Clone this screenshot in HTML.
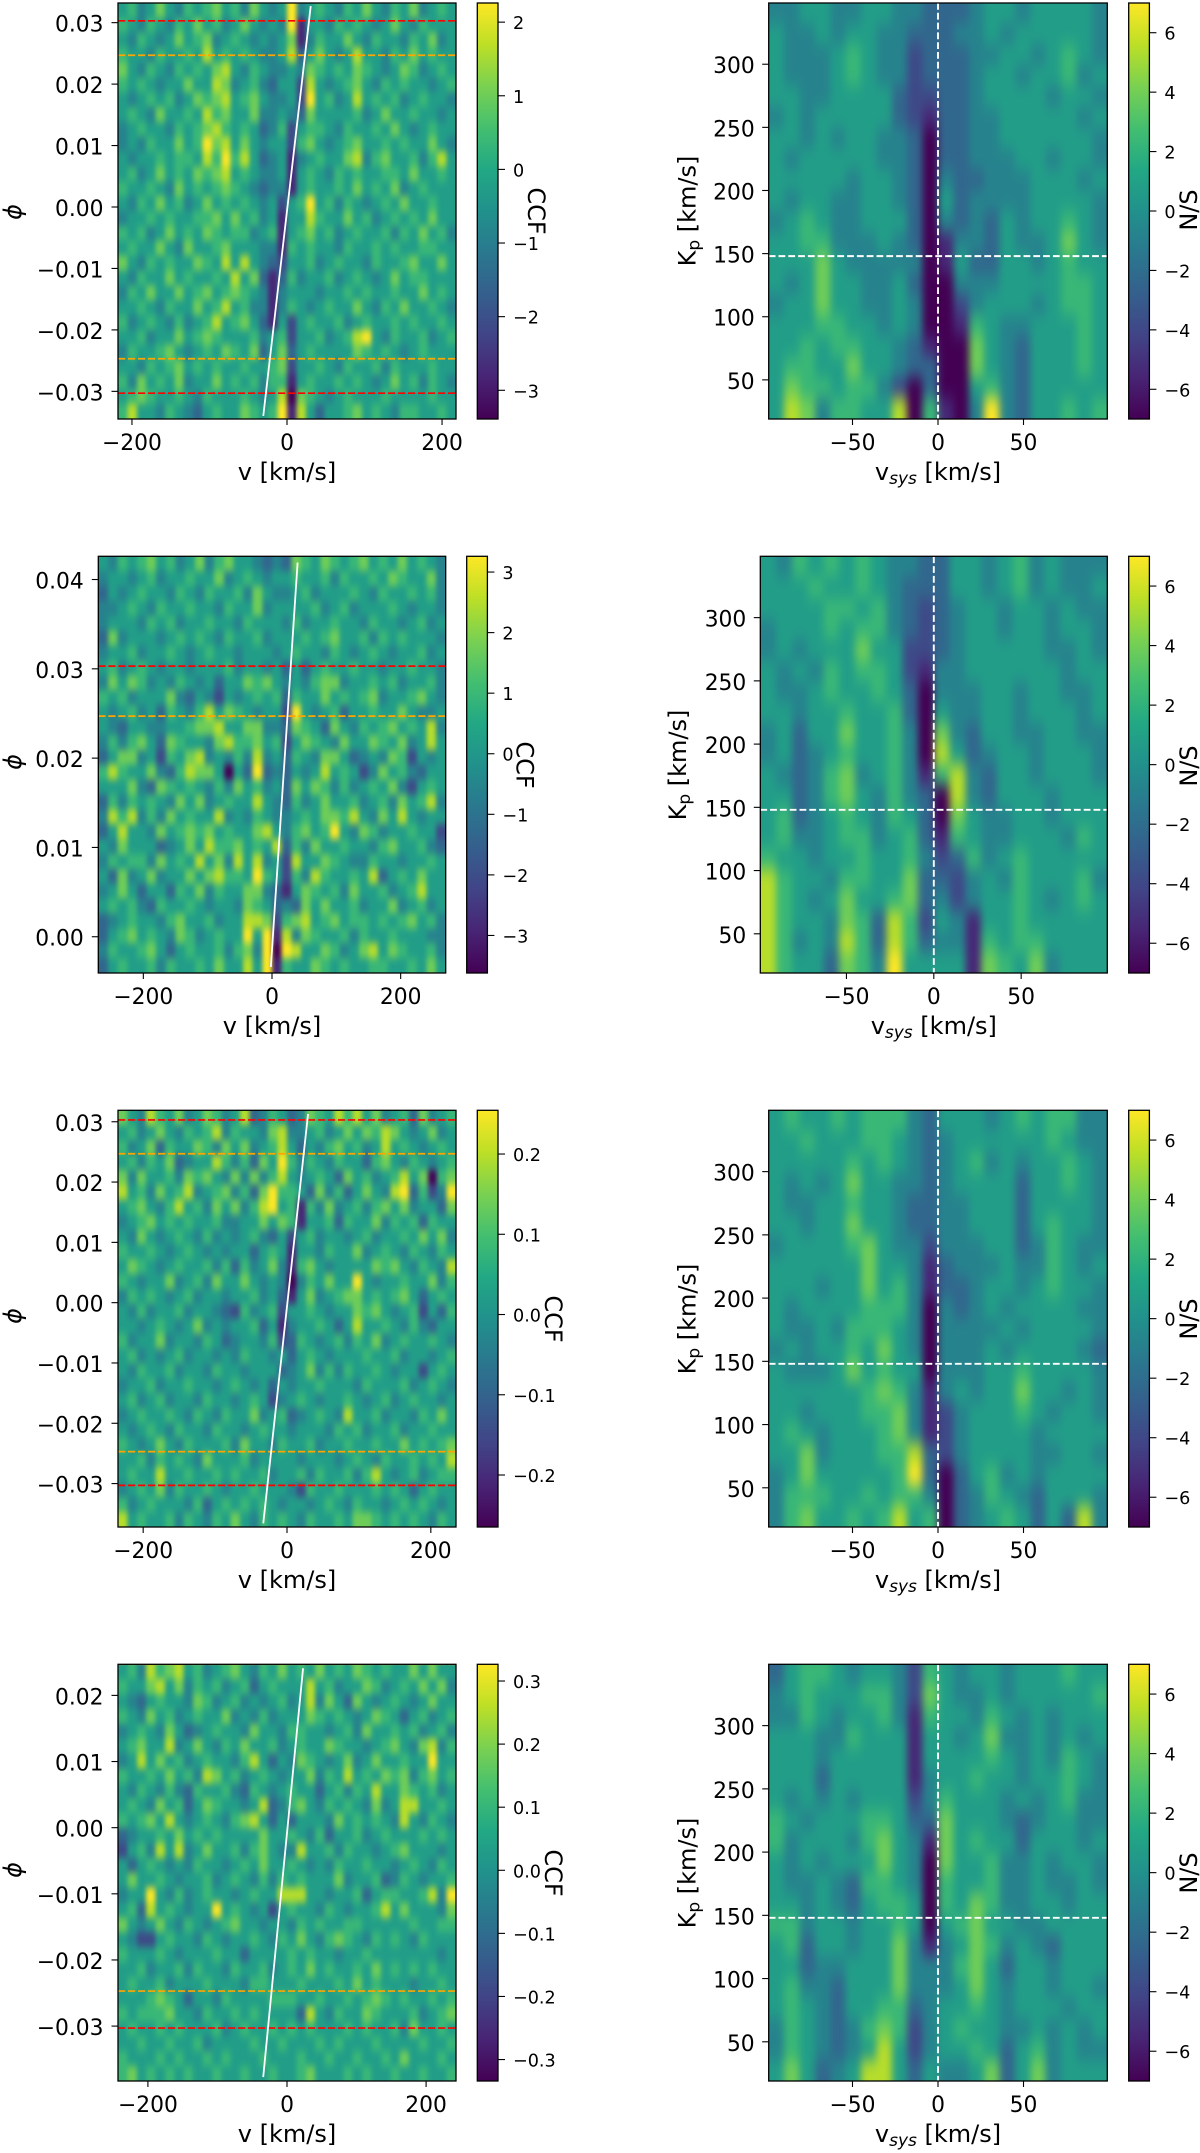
<!DOCTYPE html>
<html lang="en">
<head>
<meta charset="utf-8">
<title>CCF and N/S maps</title>
<style>
html,body{margin:0;padding:0;background:#fff}
svg{display:block}
text{font-family:"DejaVu Sans","Liberation Sans",sans-serif;fill:#000}
.axlab{font-size:24px}
.sub{font-size:17px}
.subi{font-size:17px;font-style:italic}
</style>
</head>
<body>
<svg id="fig" xmlns="http://www.w3.org/2000/svg" width="1200" height="2153" viewBox="0 0 1200 2153">
<defs>
<linearGradient id="viridis-grad" x1="0" y1="1" x2="0" y2="0"></linearGradient>
<filter id="blur-ccf" x="-5%" y="-5%" width="110%" height="110%" color-interpolation-filters="sRGB"><feGaussianBlur stdDeviation="2.2 4"/></filter>
<filter id="blur-snr" x="-5%" y="-5%" width="110%" height="110%" color-interpolation-filters="sRGB"><feGaussianBlur stdDeviation="3.6 8"/></filter>
</defs>
<g id="layer-marks"></g>
<g>
<text class="axlab" text-anchor="middle" transform="translate(287,480)">v [km/s]</text>
<text class="axlab" text-anchor="middle" transform="translate(272,1034)">v [km/s]</text>
<text class="axlab" text-anchor="middle" transform="translate(287,1588)">v [km/s]</text>
<text class="axlab" text-anchor="middle" transform="translate(287,2142)">v [km/s]</text>
<text class="axlab" font-style="italic" text-anchor="middle" transform="translate(21,212) rotate(-90)">ϕ</text>
<text class="axlab" font-style="italic" text-anchor="middle" transform="translate(21,762) rotate(-90)">ϕ</text>
<text class="axlab" font-style="italic" text-anchor="middle" transform="translate(21,1316) rotate(-90)">ϕ</text>
<text class="axlab" font-style="italic" text-anchor="middle" transform="translate(21,1870) rotate(-90)">ϕ</text>
<text class="axlab" text-anchor="middle" transform="translate(528,211) rotate(90)">CCF</text>
<text class="axlab" text-anchor="middle" transform="translate(516.5,765) rotate(90)">CCF</text>
<text class="axlab" text-anchor="middle" transform="translate(545,1319) rotate(90)">CCF</text>
<text class="axlab" text-anchor="middle" transform="translate(545,1873) rotate(90)">CCF</text>
<text class="axlab" text-anchor="middle" transform="translate(938,480)">v<tspan class="subi" dy="4">sys</tspan><tspan dy="-4"> [km/s]</tspan></text>
<text class="axlab" text-anchor="middle" transform="translate(933.8,1034)">v<tspan class="subi" dy="4">sys</tspan><tspan dy="-4"> [km/s]</tspan></text>
<text class="axlab" text-anchor="middle" transform="translate(938,1588)">v<tspan class="subi" dy="4">sys</tspan><tspan dy="-4"> [km/s]</tspan></text>
<text class="axlab" text-anchor="middle" transform="translate(938,2142)">v<tspan class="subi" dy="4">sys</tspan><tspan dy="-4"> [km/s]</tspan></text>
<text class="axlab" text-anchor="middle" transform="translate(695.6,211) rotate(-90)">K<tspan class="sub" dy="4">p</tspan><tspan dy="-4"> [km/s]</tspan></text>
<text class="axlab" text-anchor="middle" transform="translate(686,765) rotate(-90)">K<tspan class="sub" dy="4">p</tspan><tspan dy="-4"> [km/s]</tspan></text>
<text class="axlab" text-anchor="middle" transform="translate(695.6,1319) rotate(-90)">K<tspan class="sub" dy="4">p</tspan><tspan dy="-4"> [km/s]</tspan></text>
<text class="axlab" text-anchor="middle" transform="translate(695.6,1873) rotate(-90)">K<tspan class="sub" dy="4">p</tspan><tspan dy="-4"> [km/s]</tspan></text>
<text class="axlab" text-anchor="middle" transform="translate(1197,210) rotate(-90)">N/S</text>
<text class="axlab" text-anchor="middle" transform="translate(1197,766) rotate(-90)">N/S</text>
<text class="axlab" text-anchor="middle" transform="translate(1197,1319) rotate(-90)">N/S</text>
<text class="axlab" text-anchor="middle" transform="translate(1197,1873) rotate(-90)">N/S</text>
</g>
</svg>
<script>
// Heatmap values: colour-scale levels 0 (colorbar minimum) to 9 (colorbar maximum). Row 0 is the top of the map.
const ccfLevels1 = [
[5,6,4,5,7,5,4,6,5,6,7,5,6,4,7,5,4,5,9,4,5,6,5,4,6,5,7,5,4,6,5,7,4,5,6,5],
[6,5,4,6,5,4,6,5,7,5,6,4,5,7,5,4,5,4,9,1,5,5,4,6,5,6,5,4,5,7,5,4,6,5,5,5],
[5,4,6,5,4,5,7,5,6,7,4,5,6,5,4,5,4,5,7,1,4,6,5,5,7,5,4,6,5,5,4,6,5,7,4,5],
[6,5,5,4,6,5,5,6,5,8,5,6,5,6,5,4,4,5,8,3,5,7,5,4,5,8,5,5,4,6,5,7,5,6,5,5],
[7,5,4,6,5,4,6,5,6,5,7,8,5,4,6,5,4,4,5,4,7,6,5,6,5,7,6,5,4,5,7,6,4,5,6,5],
[6,5,6,5,4,5,5,7,5,5,8,7,4,5,6,4,3,5,5,2,8,5,4,5,6,7,5,4,6,5,6,5,5,4,5,6],
[5,4,5,6,5,6,4,5,7,6,7,8,5,6,7,5,4,4,5,2,9,5,6,4,5,8,5,6,5,6,4,5,6,5,5,4],
[5,6,5,4,7,5,5,6,5,8,6,7,5,5,7,4,4,5,4,3,7,5,5,5,5,6,4,5,7,5,5,6,5,5,4,5],
[4,5,6,5,5,4,6,5,6,7,8,6,5,6,5,3,4,6,2,5,6,6,5,4,6,5,5,6,5,7,5,4,5,6,5,5],
[4,5,4,6,5,5,7,5,6,9,7,8,5,7,5,4,5,5,2,6,7,5,4,5,6,7,5,5,6,5,6,5,5,7,5,4],
[5,4,5,5,6,5,6,6,5,8,6,9,6,8,5,3,4,5,1,4,5,6,5,5,7,8,4,6,7,5,5,6,4,6,8,5],
[5,6,4,5,7,5,6,5,7,6,7,8,5,6,5,4,4,5,1,5,6,5,4,6,5,6,5,5,6,6,5,7,5,5,6,5],
[6,5,5,6,5,4,7,5,6,5,6,7,6,5,4,3,4,4,1,5,6,5,5,6,5,7,5,6,5,7,4,5,6,5,5,5],
[5,4,6,5,7,5,6,4,5,7,5,6,5,6,5,4,5,2,5,6,9,5,6,4,6,5,4,5,6,5,7,5,5,6,5,5],
[4,5,5,6,5,6,5,5,6,6,7,5,7,5,6,4,5,1,5,5,8,6,5,5,7,5,6,4,5,6,5,6,5,7,5,5],
[6,5,6,4,5,7,5,6,5,7,6,5,6,6,4,5,6,1,5,6,7,5,6,4,5,6,5,5,6,4,6,5,7,5,6,4],
[5,6,5,5,7,5,4,7,5,5,6,7,5,5,5,4,4,1,6,5,6,5,5,4,6,5,5,6,5,6,5,5,6,6,5,5],
[7,5,4,6,5,6,5,5,7,6,5,8,5,8,5,4,3,2,5,5,6,4,5,6,5,5,4,6,5,5,6,7,5,5,7,5],
[5,4,6,5,5,7,5,6,5,5,6,5,8,5,7,3,1,3,6,4,5,5,6,4,5,6,5,4,5,7,5,6,6,5,5,5],
[4,6,5,7,5,5,7,5,6,7,5,6,7,6,5,4,1,4,5,5,5,4,5,5,6,5,6,5,5,6,5,5,7,5,6,5],
[5,5,6,5,4,6,5,5,7,5,6,8,5,6,4,4,1,4,6,5,4,5,6,5,5,7,5,4,6,5,7,5,5,6,5,4],
[6,4,5,6,5,4,6,4,5,6,8,5,6,7,5,3,1,5,2,5,6,5,5,6,4,5,6,5,5,6,5,6,5,5,6,5],
[5,5,6,4,5,5,7,5,6,7,6,5,5,5,6,4,5,6,2,5,5,6,4,5,6,8,9,5,4,6,5,5,6,4,5,6],
[4,6,5,5,6,7,5,4,5,6,5,7,6,5,7,3,5,7,3,5,6,5,5,5,5,7,6,5,6,5,4,5,6,5,5,5],
[5,5,4,6,5,6,7,5,6,5,6,5,5,6,5,5,6,7,2,5,5,6,5,4,6,5,5,6,4,6,5,5,5,6,5,5],
[6,4,7,5,6,5,7,4,5,5,7,5,6,5,6,4,6,6,1,5,6,5,5,6,5,6,5,4,5,7,5,6,4,6,5,4],
[5,6,7,6,5,5,6,5,4,6,5,5,5,6,5,4,5,8,0,7,6,5,4,5,6,5,5,5,6,5,5,5,5,6,5,5],
[6,8,5,5,4,6,5,4,3,5,6,5,5,7,6,5,6,9,1,8,5,3,5,5,6,7,5,6,5,4,6,6,5,5,6,5]
];
const ccfLevels2 = [
[5,4,6,5,6,7,5,6,4,5,7,4,6,7,5,5,4,3,4,3,7,6,5,7,6,5,6,7,5,6,5,7,5,6,5,4],
[4,5,5,4,5,6,4,5,5,6,5,5,7,4,5,6,5,4,5,5,6,5,5,6,4,6,5,5,6,5,7,6,5,5,7,4],
[3,5,4,5,6,5,5,4,6,5,4,6,5,5,6,4,7,5,4,4,5,6,4,5,5,5,6,5,4,6,5,5,6,5,6,4],
[4,4,5,6,5,4,6,5,5,6,5,5,4,6,5,5,7,4,5,5,5,5,6,4,5,6,4,5,5,5,6,5,4,5,5,4],
[4,5,5,5,4,6,5,6,4,5,5,6,5,5,4,6,5,5,5,4,6,4,5,5,6,5,5,4,6,5,5,4,5,6,4,5],
[3,7,4,5,5,5,4,5,6,5,6,5,4,6,5,5,6,4,5,5,5,6,5,6,7,5,5,6,4,6,5,6,5,5,5,4],
[4,5,5,6,4,5,5,6,5,4,5,6,5,5,4,5,5,5,4,5,6,5,5,4,6,5,4,5,6,5,4,5,5,6,4,5],
[5,6,4,5,6,5,4,5,5,4,5,5,5,6,4,5,5,4,5,3,5,3,5,6,5,5,6,5,5,4,5,5,6,5,5,4],
[4,7,5,7,6,4,5,4,6,5,4,5,3,5,5,7,6,7,5,4,5,4,6,7,7,4,5,5,6,5,6,4,5,5,6,4],
[6,5,6,4,5,5,5,7,4,3,5,4,2,5,4,5,6,5,6,3,6,5,5,7,5,6,5,6,7,4,5,5,6,7,5,4],
[5,4,5,6,4,5,3,6,5,4,6,8,5,7,6,5,4,5,5,2,9,5,4,5,6,3,5,5,6,5,5,7,5,4,4,5],
[5,4,3,5,5,4,4,5,5,6,7,7,8,5,5,7,7,4,4,3,7,6,5,3,7,5,4,6,5,6,7,5,6,5,8,4],
[4,6,4,6,7,5,3,7,6,5,5,4,7,8,6,6,7,5,6,2,5,7,6,5,4,7,5,5,7,6,5,7,4,5,8,5],
[3,5,7,7,4,5,2,6,5,7,8,4,5,4,6,4,8,4,5,3,6,5,4,7,7,5,3,4,5,4,7,6,2,5,4,5],
[6,8,6,5,5,7,4,3,6,8,7,7,5,0,5,3,9,3,4,3,5,4,5,8,5,6,5,2,4,7,5,6,4,3,5,5],
[5,5,5,7,4,3,7,6,5,6,5,4,6,4,7,5,6,4,5,3,7,5,7,6,4,6,4,5,6,5,7,4,2,5,6,5],
[3,6,4,6,5,6,5,4,7,5,7,4,5,6,5,5,8,5,4,3,6,4,5,7,5,5,6,4,5,6,4,7,5,6,8,4],
[4,8,6,8,4,6,4,7,5,6,5,5,8,4,5,4,6,5,4,4,5,6,5,7,7,6,8,5,4,7,5,8,5,4,5,5],
[3,5,8,5,5,4,7,5,6,7,6,7,5,6,5,5,7,8,5,4,6,7,5,6,9,5,4,7,6,4,5,5,6,5,5,2],
[5,4,7,5,5,5,3,4,5,7,5,8,6,6,7,5,6,5,8,3,6,4,7,5,5,6,5,5,4,6,7,5,5,6,4,3],
[4,6,5,6,6,4,7,5,6,5,8,5,7,4,8,5,8,4,5,2,8,5,5,7,6,5,4,4,6,5,5,4,5,5,6,5],
[5,3,7,4,5,7,4,5,5,7,5,7,8,6,6,5,9,6,5,2,6,4,8,6,5,5,6,5,8,3,5,6,5,7,5,5],
[4,5,7,5,3,5,5,3,6,5,7,4,6,5,5,7,7,4,3,1,5,7,6,5,6,4,7,5,5,6,4,5,6,8,5,5],
[5,6,5,6,4,3,6,5,5,6,5,4,5,5,4,7,6,5,3,4,3,7,5,7,5,5,6,4,5,5,7,4,5,6,4,5],
[3,4,5,6,5,5,4,6,7,5,5,6,4,5,5,8,8,7,2,6,7,8,5,6,7,5,6,6,5,6,5,6,7,5,6,4],
[3,5,6,7,5,6,5,4,7,6,4,5,6,5,5,9,5,9,1,8,4,7,6,5,5,6,4,6,5,5,6,5,5,5,4,4],
[4,6,5,5,6,7,5,3,5,6,5,5,6,4,6,7,4,9,0,9,8,5,5,7,6,4,5,7,8,5,7,6,5,5,6,4],
[3,5,6,5,5,6,4,6,5,5,6,5,7,5,5,8,5,9,1,6,5,5,7,6,5,6,5,5,6,6,5,5,6,5,7,5]
];
const ccfLevels3 = [
[7,5,4,8,6,5,7,4,5,7,6,4,5,8,3,4,6,5,3,4,7,6,5,8,6,8,5,7,4,5,6,3,7,4,5,6],
[5,6,4,5,7,5,4,6,5,6,8,4,6,5,5,4,7,8,4,4,5,6,4,5,7,5,7,6,8,7,5,4,5,7,4,5],
[6,4,5,7,3,6,5,5,7,6,4,7,5,7,4,5,6,8,5,3,5,4,6,7,5,6,4,5,8,5,6,5,4,5,6,5],
[5,6,4,6,5,7,3,4,5,5,8,6,4,6,3,7,5,9,6,4,6,5,4,6,5,5,3,6,7,5,4,6,5,4,5,6],
[7,4,7,5,5,6,4,7,6,7,5,4,7,4,7,4,6,8,5,4,5,6,5,3,7,5,6,4,5,6,8,5,7,0,6,7],
[8,5,6,4,7,5,6,8,4,5,6,7,4,6,3,7,9,6,6,5,3,7,4,6,3,5,7,5,4,8,9,3,6,2,4,9],
[5,6,7,5,4,6,8,5,6,4,7,5,7,4,6,8,9,5,6,1,6,4,7,4,5,6,4,6,7,5,7,4,5,5,3,7],
[4,5,6,7,5,6,5,6,5,5,6,4,4,5,5,7,5,7,6,1,5,5,6,3,6,5,5,7,4,6,5,6,3,6,5,5],
[5,4,7,5,4,5,6,5,4,6,4,5,4,5,6,4,3,5,2,5,6,4,5,5,4,5,6,4,5,5,6,5,7,5,7,4],
[6,5,5,6,5,4,5,6,5,4,5,4,5,5,3,5,6,5,1,5,5,4,6,5,5,7,4,5,6,5,4,6,5,4,6,5],
[5,7,6,5,4,5,6,5,5,6,4,6,3,6,4,5,7,4,1,6,7,5,4,5,5,5,5,7,6,7,5,4,6,5,4,8],
[6,5,4,5,5,7,4,5,6,4,7,5,5,7,5,4,5,4,0,4,6,5,7,5,5,9,5,4,5,5,6,5,5,7,4,6],
[4,6,5,6,5,4,5,6,4,5,5,4,5,5,6,4,5,3,1,5,7,4,5,6,7,7,5,6,5,6,7,5,3,5,6,5],
[5,4,6,4,5,5,6,4,5,5,4,3,2,6,4,5,6,2,5,5,6,5,4,5,5,7,6,7,5,4,5,6,2,5,3,6],
[5,5,4,5,6,5,4,5,7,4,5,4,5,5,6,3,5,1,4,5,5,6,5,3,5,8,5,5,6,5,4,6,4,3,5,5],
[6,4,5,5,7,4,5,5,4,6,5,3,4,5,5,4,6,2,3,6,5,4,5,6,4,6,5,7,4,5,6,5,5,6,5,4],
[5,6,4,5,4,5,6,4,5,5,4,5,4,6,5,5,4,5,3,5,6,5,4,5,5,5,6,5,5,6,4,5,5,4,5,6],
[5,4,6,5,5,6,4,5,5,4,6,5,5,4,5,5,5,3,4,5,7,4,6,4,6,5,5,6,5,4,5,5,2,5,6,5],
[4,5,5,6,4,5,5,6,5,5,4,5,6,5,4,5,3,5,4,5,5,6,5,5,5,4,6,5,5,5,6,4,5,6,5,4],
[5,6,4,5,6,4,5,5,4,6,5,5,4,5,6,5,2,4,5,6,5,4,5,5,6,5,4,5,6,4,5,6,5,5,4,5],
[4,5,6,5,5,6,5,4,6,5,4,6,5,5,7,4,5,6,3,4,5,6,5,4,8,5,5,6,4,5,5,4,6,5,7,5],
[5,4,5,6,5,4,6,5,5,4,6,5,5,4,5,6,5,5,4,5,5,5,4,6,5,6,4,5,5,6,4,5,5,6,5,5],
[6,5,4,5,7,5,4,6,5,5,5,6,4,7,5,5,4,6,5,5,6,4,5,5,6,5,5,6,5,5,7,5,6,5,6,7],
[5,5,6,4,6,5,6,5,4,7,5,5,5,6,4,5,5,5,5,4,5,5,5,4,5,6,5,4,6,5,5,6,5,6,5,8],
[5,6,5,5,8,5,5,6,5,5,6,5,6,5,5,6,4,5,5,6,4,6,5,5,6,4,6,8,5,4,5,6,4,5,6,6],
[4,5,6,5,7,4,6,5,5,6,5,4,5,5,6,5,5,5,4,2,6,5,5,6,5,5,5,6,5,6,5,3,5,6,5,5],
[6,4,5,6,5,5,5,4,6,3,5,6,5,6,5,6,5,4,5,5,4,5,6,5,4,6,5,5,4,5,6,5,6,5,4,5],
[8,5,6,5,5,6,4,6,5,4,6,5,7,5,4,6,5,6,5,4,6,5,5,6,5,7,7,6,5,6,5,6,5,4,6,5]
];
const ccfLevels4 = [
[5,6,4,8,6,7,8,5,6,4,5,6,7,5,4,6,5,7,5,6,5,7,5,6,5,7,6,5,6,5,5,7,5,7,5,5],
[6,5,5,7,8,5,7,4,6,5,6,4,5,6,3,5,6,5,5,5,8,5,6,4,5,5,7,6,4,5,6,5,7,5,7,4],
[5,4,3,5,6,5,5,4,7,6,4,5,6,4,5,4,5,6,4,5,8,4,7,5,3,7,5,4,5,6,5,4,5,7,5,5],
[6,5,4,7,5,6,4,5,6,5,5,7,4,5,4,6,4,5,5,5,7,6,5,6,5,4,5,7,6,5,3,5,6,4,5,6],
[4,5,6,5,4,7,5,3,4,5,6,5,5,4,7,5,5,4,6,6,5,5,4,5,6,4,7,5,5,6,5,6,4,5,6,4],
[5,6,7,5,5,8,4,5,7,5,4,6,5,7,5,5,6,4,5,6,5,5,7,6,5,5,4,5,6,7,5,4,7,8,4,6],
[4,5,8,5,7,5,6,4,5,6,5,5,4,6,8,5,3,5,4,7,6,5,4,5,7,4,5,7,5,5,6,5,5,9,5,5],
[6,5,5,6,5,7,5,6,4,8,7,5,6,4,5,6,5,4,5,5,7,4,6,5,8,5,6,5,7,6,7,4,6,7,5,6],
[5,4,6,5,4,6,4,3,6,5,5,6,4,3,6,5,4,5,6,5,5,3,5,6,4,6,5,8,5,5,7,6,5,6,4,5],
[5,6,5,4,7,5,6,3,5,7,6,5,5,4,5,8,3,4,6,7,5,4,6,5,6,5,4,7,4,5,8,8,5,5,6,5],
[6,5,6,7,5,8,5,4,5,6,5,4,6,7,8,5,3,5,3,5,5,5,4,7,5,6,5,6,5,4,8,5,4,6,5,4],
[3,4,5,5,6,5,7,5,6,5,6,5,5,5,5,7,5,5,6,5,4,6,3,5,5,6,4,5,6,5,5,5,6,5,6,5],
[2,5,6,4,8,5,8,4,5,7,5,5,6,4,6,7,5,4,4,8,5,5,6,4,6,5,5,4,5,6,7,5,5,5,4,5],
[5,3,5,6,5,4,5,4,6,5,5,4,5,6,5,7,5,5,6,5,4,5,4,6,5,5,6,5,5,4,5,6,5,4,6,5],
[5,7,5,5,6,5,4,5,5,6,4,5,6,5,4,6,4,6,5,6,5,5,5,7,4,5,5,6,3,4,6,5,4,5,5,6],
[4,5,5,9,5,4,6,4,5,6,5,5,4,5,6,5,5,8,8,8,5,5,4,5,5,6,3,5,6,6,5,5,6,8,4,9],
[5,6,3,8,5,6,5,4,5,5,9,5,6,5,4,5,2,5,6,5,5,4,6,5,4,5,5,6,8,5,7,5,5,5,4,7],
[7,5,4,5,7,5,4,6,5,4,5,6,7,5,5,4,5,5,4,6,5,6,5,5,6,6,5,5,5,5,5,6,5,5,6,6],
[5,4,2,2,5,6,5,5,4,6,5,4,5,5,6,5,4,6,5,7,5,4,6,7,6,5,4,6,5,6,5,4,6,5,5,5],
[6,5,5,5,6,5,4,5,5,5,6,5,5,3,5,5,5,5,6,5,6,5,5,4,5,5,6,5,5,5,5,5,5,5,4,5],
[5,5,6,4,5,5,6,4,6,5,5,4,6,5,5,6,4,5,6,5,7,5,6,5,5,6,5,7,5,6,5,6,5,6,5,5],
[5,6,5,5,6,4,5,5,5,6,5,5,5,4,6,6,5,5,5,6,5,5,5,6,5,7,5,6,5,5,5,4,5,5,6,5],
[5,5,5,6,7,6,5,3,5,5,4,6,5,5,5,5,6,6,6,5,5,6,5,5,6,5,6,7,6,5,6,5,5,6,5,6],
[6,5,6,6,6,7,5,5,4,6,5,5,6,5,6,5,5,5,5,3,8,5,4,6,5,5,7,6,5,5,5,6,4,5,6,7],
[5,6,5,5,6,5,6,5,5,5,6,4,5,6,5,5,6,5,6,5,6,5,5,5,6,5,6,5,5,6,4,7,5,5,6,5],
[5,5,6,5,5,6,5,5,6,4,5,5,5,5,6,5,5,6,5,5,5,6,5,6,5,5,5,6,5,5,5,5,6,5,5,6],
[6,5,5,5,6,5,6,5,5,6,5,6,5,5,5,6,5,5,5,6,5,5,6,5,5,6,5,5,6,5,7,5,5,5,6,5],
[6,7,5,6,5,6,5,6,5,5,6,5,5,6,5,5,6,5,5,6,7,5,5,5,6,5,6,5,5,6,5,5,6,5,5,6]
];
const snrLevels1 = [
[4,4,5,5,4,4,5,5,4,4,3,3,3,4,5,5,4,5,5,5,5,4],
[5,4,4,5,4,5,5,4,4,3,3,3,4,4,5,4,5,5,5,5,5,4],
[5,4,4,4,5,6,5,4,4,2,3,3,3,4,4,5,5,4,5,6,5,4],
[5,4,4,4,5,6,5,4,4,2,3,3,3,4,5,5,4,5,5,6,4,5],
[5,5,4,4,5,5,5,5,3,2,2,3,3,4,5,5,5,5,4,5,5,4],
[4,5,4,5,5,5,5,5,3,2,1,3,3,4,4,5,5,5,5,5,4,5],
[5,5,4,5,4,5,5,4,4,3,0,3,3,4,4,5,5,5,5,5,5,4],
[5,4,5,5,5,5,5,4,4,3,0,3,3,4,4,4,5,5,4,5,5,4],
[5,5,5,5,5,4,5,5,4,3,0,4,3,3,4,4,4,5,5,5,4,5],
[5,4,5,5,4,4,5,5,4,3,0,5,3,4,4,4,4,5,5,5,5,4],
[4,5,6,5,4,4,5,5,5,3,0,4,3,4,3,5,4,5,5,6,5,4],
[5,5,6,6,4,4,4,5,4,3,0,1,4,4,3,5,4,4,5,7,5,4],
[5,5,5,7,5,4,4,4,4,4,0,1,5,3,3,5,5,4,5,6,5,5],
[5,4,5,7,5,5,4,4,5,3,0,0,4,4,4,5,5,5,5,6,6,5],
[4,5,5,7,5,5,4,4,5,4,0,0,2,4,5,5,5,4,5,6,6,5],
[5,5,5,6,6,5,5,4,5,4,0,0,1,6,5,4,4,5,5,5,6,5],
[5,5,6,5,6,6,5,5,4,3,1,0,0,7,5,4,3,5,5,5,6,5],
[5,6,6,5,5,7,5,5,4,3,3,0,0,7,5,4,3,5,5,5,6,5],
[5,7,6,6,5,6,6,4,2,0,3,0,0,5,6,4,3,5,5,5,5,5],
[5,8,7,4,6,6,5,5,8,0,6,1,0,4,9,4,3,5,5,6,5,6]
];
const snrLevels2 = [
[5,4,6,5,6,5,6,5,4,4,3,3,5,5,4,5,6,4,5,4,4,4],
[5,5,5,6,5,5,6,5,4,3,3,3,5,5,4,5,6,4,5,4,4,5],
[5,5,5,5,6,6,5,6,4,3,2,3,4,5,5,4,5,5,4,5,4,4],
[4,5,5,5,6,5,6,6,4,3,2,3,4,5,5,4,5,5,4,5,5,4],
[4,5,4,5,5,5,7,5,5,2,2,3,4,5,5,5,5,5,4,4,5,4],
[5,4,5,4,6,5,6,6,5,2,1,4,4,5,5,5,5,5,5,4,5,5],
[5,4,4,5,6,5,5,6,5,3,0,4,4,4,5,5,4,5,5,4,4,5],
[5,5,4,5,5,6,5,5,6,3,0,5,4,4,5,5,4,5,5,5,4,5],
[4,5,3,5,5,7,5,5,6,4,0,7,4,3,5,5,4,4,5,5,4,4],
[4,5,3,4,5,6,5,5,6,4,0,8,5,3,4,5,5,4,5,5,5,4],
[5,4,3,4,6,7,4,5,6,4,1,6,8,4,3,5,5,4,5,5,5,4],
[5,5,3,4,6,7,5,4,6,4,3,0,8,4,3,5,5,5,4,5,5,5],
[5,6,3,4,5,6,5,4,6,5,3,0,7,5,4,4,5,5,4,5,5,5],
[5,6,4,4,5,6,6,4,5,6,3,1,6,5,4,4,5,5,5,4,6,5],
[6,5,5,4,5,5,6,5,5,6,4,2,3,6,4,5,6,5,5,5,5,5],
[8,6,5,5,4,6,6,5,5,7,3,3,2,4,5,4,6,5,5,5,6,4],
[8,6,5,4,5,7,5,5,6,7,3,4,2,4,5,5,6,5,4,5,6,5],
[8,6,5,5,4,7,6,3,8,6,2,5,4,1,5,5,6,5,5,5,5,5],
[8,6,4,5,4,8,6,3,8,6,3,4,4,1,6,5,6,6,5,5,5,5],
[8,6,5,5,3,7,6,4,9,5,5,5,5,1,7,6,5,7,4,5,5,5]
];
const snrLevels3 = [
[5,6,5,5,6,5,6,6,6,4,3,5,5,5,4,5,6,5,6,6,4,4],
[5,5,6,5,5,5,6,6,5,4,3,4,5,5,5,5,5,5,6,5,4,4],
[5,5,5,5,5,6,5,6,5,4,3,4,5,6,4,5,4,5,5,6,5,4],
[5,4,5,4,5,7,5,5,4,4,3,4,5,5,5,5,3,5,5,6,5,4],
[5,4,4,5,5,6,5,5,4,3,3,4,4,5,5,5,3,5,5,5,5,4],
[5,5,4,5,5,7,5,5,4,3,3,4,4,5,5,5,3,5,6,5,5,4],
[4,5,5,5,5,6,7,5,4,4,2,4,4,4,5,5,3,4,6,5,4,4],
[5,5,5,5,5,5,7,5,5,4,1,3,4,4,4,5,4,4,6,5,4,5],
[5,5,5,4,5,5,7,5,6,4,1,3,3,4,5,5,4,5,6,5,5,4],
[5,4,5,5,5,5,6,6,6,4,0,4,3,4,5,4,5,5,5,5,4,4],
[5,4,4,5,4,6,6,6,5,4,0,4,4,4,4,5,4,5,5,5,5,4],
[4,5,4,5,5,6,5,7,5,4,0,4,4,4,5,4,5,5,5,5,4,3],
[5,4,4,4,5,7,5,6,5,5,0,4,4,4,5,5,6,5,5,5,5,4],
[5,5,5,5,5,5,6,7,6,4,1,4,5,4,5,5,7,5,5,4,5,4],
[5,5,4,5,5,5,6,6,7,4,1,2,4,5,5,5,6,5,4,5,5,4],
[5,6,5,4,5,5,5,6,7,4,1,2,4,5,5,5,5,4,5,5,5,5],
[5,5,7,4,5,5,5,6,6,8,3,2,4,5,5,5,5,4,4,5,5,4],
[4,5,7,5,5,5,5,5,6,9,3,0,3,5,6,4,5,4,5,5,5,5],
[4,6,6,6,5,5,6,5,6,6,4,0,3,4,6,5,4,3,5,5,5,4],
[4,6,7,5,5,6,5,6,8,5,6,0,3,4,5,6,5,3,5,3,8,4]
];
const snrLevels4 = [
[3,5,6,6,5,4,5,5,4,2,6,5,4,5,5,4,5,5,5,6,5,5],
[4,5,6,5,5,5,6,6,4,2,7,5,4,4,5,4,5,5,5,5,5,6],
[4,4,6,5,4,5,5,6,4,1,6,5,5,4,6,5,4,5,4,5,5,5],
[5,5,5,4,4,6,5,5,5,1,5,5,4,5,7,4,4,5,4,5,4,5],
[5,5,5,4,5,5,5,5,5,1,5,5,5,5,6,5,4,5,4,6,5,4],
[5,5,5,3,5,5,5,5,5,1,4,5,5,6,5,5,4,5,5,6,5,4],
[5,4,5,4,5,4,5,5,5,2,4,6,5,5,5,4,5,4,5,6,4,4],
[6,5,4,5,5,5,6,6,5,3,3,7,5,5,5,4,3,4,5,5,4,4],
[6,4,5,5,5,4,6,7,5,4,1,7,5,6,5,5,3,5,5,5,4,5],
[5,4,5,4,5,5,5,7,5,4,0,7,5,5,6,4,4,5,4,5,5,4],
[5,4,4,5,4,3,6,6,5,4,0,6,5,5,6,4,4,5,4,4,5,4],
[5,5,4,5,4,3,5,6,6,5,0,6,5,7,6,4,4,5,5,4,5,5],
[6,6,4,5,5,4,5,5,6,5,0,5,6,7,5,5,4,4,5,5,5,5],
[5,6,3,5,5,4,5,5,7,4,1,4,5,7,6,4,5,4,3,5,5,5],
[5,5,3,4,4,5,5,5,7,4,4,4,6,7,5,3,5,5,4,5,5,5],
[5,6,4,4,3,5,5,5,7,4,4,4,5,7,5,4,5,5,4,5,5,4],
[5,6,5,4,3,5,5,6,6,3,4,5,5,6,5,4,5,5,5,4,5,5],
[4,6,5,4,3,4,6,7,6,2,4,5,6,5,5,4,4,5,4,5,4,5],
[4,6,5,4,3,4,5,8,5,2,4,5,5,6,5,3,5,6,4,5,4,4],
[5,7,5,3,4,5,8,8,5,3,5,4,4,5,7,3,5,7,4,5,5,5]
];

// Colorbar ranges
const ccfRanges = [[-3.39,2.26],[-3.62,3.26],[-0.2648,0.2545],[-0.334,0.3265]];
const snrRange = [-7,7];

// Axis limits
const ccfVelLimits = [218,270,235,243];
const ccfPhiLimits = [[-0.0345,0.0332],[-0.00406,0.0426],[-0.0372,0.0319],[-0.0383,0.0247]];
const snrVelLimits = [99,99.3,99,99];
const snrKpLimits = [19,348.5];

// Tick values and labels
const ccfVelTicks = [[-200,0,200],[-200,0,200],[-200,0,200],[-200,0,200]];
const ccfVelTickLabels = ['−200','0','200'];
const ccfPhiTicks = [
 [-0.03,-0.02,-0.01,0,0.01,0.02,0.03],
 [0,0.01,0.02,0.03,0.04],
 [-0.03,-0.02,-0.01,0,0.01,0.02,0.03],
 [-0.03,-0.02,-0.01,0,0.01,0.02]
];
const ccfPhiTickLabels = [
 ['−0.03','−0.02','−0.01','0.00','0.01','0.02','0.03'],
 ['0.00','0.01','0.02','0.03','0.04'],
 ['−0.03','−0.02','−0.01','0.00','0.01','0.02','0.03'],
 ['−0.03','−0.02','−0.01','0.00','0.01','0.02']
];
const ccfBarTicks = [
 [-3,-2,-1,0,1,2],[-3,-2,-1,0,1,2,3],[-0.2,-0.1,0,0.1,0.2],[-0.3,-0.2,-0.1,0,0.1,0.2,0.3]
];
const ccfBarTickLabels = [
 ['−3','−2','−1','0','1','2'],
 ['−3','−2','−1','0','1','2','3'],
 ['−0.2','−0.1','0.0','0.1','0.2'],
 ['−0.3','−0.2','−0.1','0.0','0.1','0.2','0.3']
];
const snrVelTicks = [-50,0,50];
const snrVelTickLabels = ['−50','0','50'];
const snrKpTicks = [50,100,150,200,250,300];
const snrKpTickLabels = ['50','100','150','200','250','300'];
const snrBarTicks = [-6,-4,-2,0,2,4,6];
const snrBarTickLabels = ['−6','−4','−2','0','2','4','6'];

// Overlay lines
const ingressPhi = [-0.0303,0.0303];
const contactPhi = [-0.0247,0.0247];
const tracePhi = [[-0.034,0.0327],[-0.0034,0.0419],[-0.0366,0.0313],[-0.0377,0.0241]];
const traceVel = [[-30.6,30.6],[-1.8,39.8],[-33,29.3],[-34.2,23.1]];
const markerVsys = 0;
const markerKp = 148;

// Viridis colour map
const viridisStops = ['#440154','#482475','#414487','#355f8d','#2a788e','#21918c','#22a884','#44bf70','#7ad151','#bddf26','#fde725'];

// Page layout, in pixels
const LAYOUT = {
  rowTop:[3,556.3,1110.3,1664.3],
  rowH:[416,416.7,416.7,416.7],
  ccfX:[118,98.3,118,118], ccfW:[338,347.4,338,338],
  ccfBarX:[477.3,466.7,477.3,477.3],
  snrX:[768.7,760.3,768.7,768.7], snrW:[338.6,347,338.6,338.6],
  snrBarX:1128.7, barW:20.7
};

const NS = 'http://www.w3.org/2000/svg';
const marks = document.getElementById('layer-marks');
const defs = document.querySelector('defs');

function hex(c){return [parseInt(c.slice(1,3),16),parseInt(c.slice(3,5),16),parseInt(c.slice(5,7),16)];}
function viridis(t){
  t = Math.max(0,Math.min(1,t));
  const p = t*(viridisStops.length-1), i = Math.min(Math.floor(p),viridisStops.length-2), f = p-i;
  const a = hex(viridisStops[i]), b = hex(viridisStops[i+1]);
  return 'rgb('+a.map(function(v,k){return Math.round(v+(b[k]-v)*f);}).join(',')+')';
}
function linear(d0,d1,r0,r1){return function(v){return r0+(v-d0)/(d1-d0)*(r1-r0);};}
function make(tag,parent,attrs){
  const el = document.createElementNS(NS,tag);
  Object.keys(attrs).forEach(function(k){el.setAttribute(k,attrs[k]);});
  parent.appendChild(el);
  return el;
}
function tickText(parent,x,y,size,anchor,str){
  const t = make('text',parent,{'text-anchor':anchor,'font-size':size,x:x,y:y});
  
  
  t.textContent = str;
}
function tickLine(parent,x1,y1,x2,y2){
  const l = make('line',parent,{x1:x1,y1:y1,x2:x2,y2:y2,stroke:'#000','stroke-width':1.1});
  
  
}

viridisStops.forEach(function(c,i){
  make('stop',document.getElementById('viridis-grad'),{offset:(i/(viridisStops.length-1)),'stop-color':c});
});

function heatmap(parent,levels,xPos,yPos,range,box,filterId,clipId){
  const cp = make('clipPath',defs,{id:clipId});
  make('rect',cp,{x:box.x,y:box.y,width:box.w,height:box.h});
  const outer = make('g',parent,{'clip-path':'url(#'+clipId+')'});
  
  
  const inner = make('g',outer,{filter:'url(#'+filterId+')','shape-rendering':'crispEdges'});
  const colour = linear(range[0],range[1],0,1);
  const nr = levels.length;
  levels.forEach(function(row,r){
    const nc = row.length;
    row.forEach(function(level,c){
      const value = range[0]+level/9*(range[1]-range[0]);
      let x0 = xPos(c/nc), x1 = xPos((c+1)/nc), y0 = yPos(r/nr), y1 = yPos((r+1)/nr);
      if(c===0) x0 -= 24;
      if(c===nc-1) x1 += 24;
      if(r===0) y0 -= 30;
      if(r===nr-1) y1 += 30;
      const cell = make('rect',inner,{x:x0.toFixed(2),y:y0.toFixed(2),width:(x1-x0+0.6).toFixed(2),height:(y1-y0+0.6).toFixed(2),fill:viridis(colour(value))});
      
      
    });
  });
  return outer;
}
function frame(parent,box,name){
  const f = make('rect',parent,{x:box.x,y:box.y,width:box.w,height:box.h,fill:'none',stroke:'#000','stroke-width':1.3});
  
  
}
function colorbar(parent,x,box,range,ticks,labels){
  const g = make('g',parent,{});
  
  
  const bar = {x:x,y:box.y,w:LAYOUT.barW,h:box.h};
  const r = make('rect',g,{x:bar.x,y:bar.y,width:bar.w,height:bar.h,fill:'url(#viridis-grad)'});
  
  
  frame(g,bar,'colorbar-frame');
  const y = linear(range[0],range[1],box.y+box.h,box.y);
  ticks.forEach(function(t,i){
    tickLine(g,x+bar.w,y(t),x+bar.w+7,y(t));
    tickText(g,x+bar.w+15,y(t)+7,17.6,'start',labels[i]);
  });
}

[0,1,2,3].forEach(function(i){
  const top = LAYOUT.rowTop[i], h = LAYOUT.rowH[i];

  // Left panel: CCF map
  const gL = make('g',marks,{});
  
  
  const bL = {x:LAYOUT.ccfX[i],y:top,w:LAYOUT.ccfW[i],h:h};
  const vLim = ccfVelLimits[i], pLim = ccfPhiLimits[i];
  const xL = linear(-vLim,vLim,bL.x,bL.x+bL.w);
  const yL = linear(pLim[0],pLim[1],bL.y+bL.h,bL.y);
  heatmap(gL,[ccfLevels1,ccfLevels2,ccfLevels3,ccfLevels4][i],
    linear(0,1,bL.x,bL.x+bL.w),linear(0,1,bL.y,bL.y+bL.h),ccfRanges[i],bL,'blur-ccf','clip-ccf-'+i);
  const overL = make('g',gL,{'clip-path':'url(#clip-ccf-'+i+')'});
  ingressPhi.forEach(function(p){
    const l = make('line',overL,{x1:bL.x,x2:bL.x+bL.w,y1:yL(p),y2:yL(p),stroke:'#ff0000','stroke-width':1.7,'stroke-dasharray':'7.2 2.8'});
    
    
  });
  contactPhi.forEach(function(p){
    const l = make('line',overL,{x1:bL.x,x2:bL.x+bL.w,y1:yL(p),y2:yL(p),stroke:'#ffa500','stroke-width':1.7,'stroke-dasharray':'7.2 2.8'});
    
    
  });
  const tr = make('line',overL,{x1:xL(traceVel[i][0]),y1:yL(tracePhi[i][0]),x2:xL(traceVel[i][1]),y2:yL(tracePhi[i][1]),stroke:'#fff','stroke-width':1.8});
  
  
  frame(gL,bL,'axes-frame');
  ccfVelTicks[i].forEach(function(t,k){
    tickLine(gL,xL(t),bL.y+bL.h,xL(t),bL.y+bL.h+6);
    tickText(gL,xL(t),bL.y+bL.h+31,21.8,'middle',ccfVelTickLabels[k]);
  });
  ccfPhiTicks[i].forEach(function(t,k){
    tickLine(gL,bL.x-6.5,yL(t),bL.x,yL(t));
    tickText(gL,bL.x-14.5,yL(t)+9,21.8,'end',ccfPhiTickLabels[i][k]);
  });
  colorbar(gL,LAYOUT.ccfBarX[i],bL,ccfRanges[i],ccfBarTicks[i],ccfBarTickLabels[i]);

  // Right panel: Kp-vsys map
  const gR = make('g',marks,{});
  
  
  const bR = {x:LAYOUT.snrX[i],y:top,w:LAYOUT.snrW[i],h:h};
  const sLim = snrVelLimits[i];
  const xR = linear(-sLim,sLim,bR.x,bR.x+bR.w);
  const yR = linear(snrKpLimits[0],snrKpLimits[1],bR.y+bR.h,bR.y);
  heatmap(gR,[snrLevels1,snrLevels2,snrLevels3,snrLevels4][i],
    linear(0,1,bR.x,bR.x+bR.w),linear(0,1,bR.y,bR.y+bR.h),snrRange,bR,'blur-snr','clip-snr-'+i);
  const overR = make('g',gR,{'clip-path':'url(#clip-snr-'+i+')'});
  const mv = make('line',overR,{x1:xR(markerVsys),x2:xR(markerVsys),y1:bR.y,y2:bR.y+bR.h,stroke:'#fff','stroke-width':1.9,'stroke-dasharray':'6.8 3'});
  
  
  const mk = make('line',overR,{x1:bR.x,x2:bR.x+bR.w,y1:yR(markerKp),y2:yR(markerKp),stroke:'#fff','stroke-width':1.9,'stroke-dasharray':'6.8 3'});
  
  
  frame(gR,bR,'axes-frame');
  snrVelTicks.forEach(function(t,k){
    tickLine(gR,xR(t),bR.y+bR.h,xR(t),bR.y+bR.h+6);
    tickText(gR,xR(t),bR.y+bR.h+31,21.8,'middle',snrVelTickLabels[k]);
  });
  snrKpTicks.forEach(function(t,k){
    tickLine(gR,bR.x-6.5,yR(t),bR.x,yR(t));
    tickText(gR,bR.x-14,yR(t)+9,21.8,'end',snrKpTickLabels[k]);
  });
  colorbar(gR,LAYOUT.snrBarX,bR,snrRange,snrBarTicks,snrBarTickLabels);
});
</script>
</body>
</html>
